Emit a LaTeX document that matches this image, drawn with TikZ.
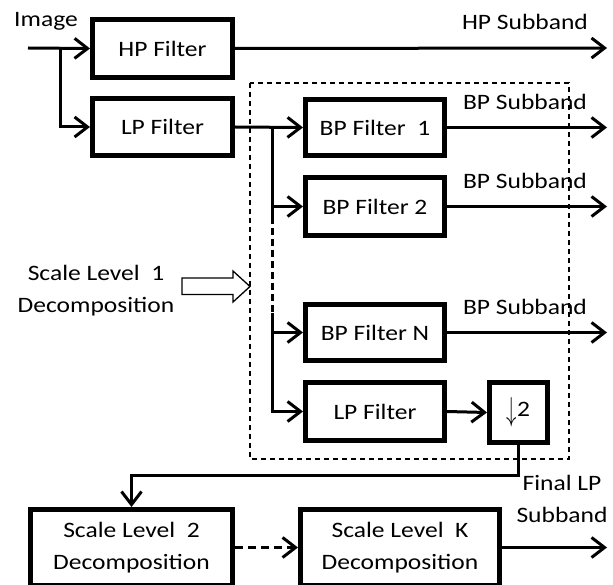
\documentclass[tikz,border=0pt]{standalone}
\usepackage{fontspec}
\setmainfont{Carlito}[FakeStretch=1.16]
\usetikzlibrary{arrows.meta}
\tikzset{
  box/.style={draw, line width=4.6pt, inner sep=0pt, align=center, font=\fontsize{22}{32}\selectfont},
  lbl/.style={inner sep=0pt, align=center, font=\fontsize{22}{32}\selectfont},
  conn/.style={line width=3pt},
  arr/.style={conn, -{Straight Barb[length=13pt,width=20pt,line width=3pt]}},
  dbox/.style={line width=1.3pt, dash pattern=on 5pt off 4pt},
}
\begin{document}
\begin{tikzpicture}[x=1pt,y=-1pt]
\clip (0,0) rectangle (613,585);
\fill[white] (0,0) rectangle (613,585);
% dashed enclosure
\draw[dbox] (250,83) rectangle (569,459);
% boxes
\node[box, minimum width=140.4pt, minimum height=58.4pt] (hp) at (162.5,48.5) {HP Filter};
\node[box, minimum width=140.4pt, minimum height=57.4pt] (lp) at (162.5,127) {LP Filter};
\node[box, minimum width=139.4pt, minimum height=56.4pt] (bp1) at (375,127.5) {BP Filter\ \ 1};
\node[box, minimum width=139.4pt, minimum height=58.4pt] (bp2) at (375,206.5) {BP Filter 2};
\node[box, minimum width=139.4pt, minimum height=56.4pt] (bpn) at (375,332.5) {BP Filter N};
\node[box, minimum width=139.4pt, minimum height=58.4pt] (lp2) at (375,411.5) {LP Filter};
\node[box, minimum width=58.4pt, minimum height=60.4pt] (ds) at (518.5,412.5) {\raisebox{-4pt}{\scalebox{1}[1.6]{$\downarrow$}}2};
\node[box, minimum width=202.4pt, minimum height=76.4pt] (sl2) at (131.5,547.5) {Scale Level\ \ 2\\Decomposition};
\node[box, minimum width=199.4pt, minimum height=76.4pt] (slk) at (400,547.5) {Scale Level\ \ K\\Decomposition};
% labels
\node[lbl] (img) at (46,21) {Image};
\node[lbl] (hps) at (525,22) {HP Subband};
\node[lbl] (bps1) at (525,102) {BP Subband};
\node[lbl] (bps2) at (525,181) {BP Subband};
\node[lbl] (bpsn) at (525,307) {BP Subband};
\node[lbl] (sl1) at (96,291) {Scale Level\ \ 1\\Decomposition};
\node[lbl] (flp) at (562,499) {Final LP\\Subband};
% coordinates
\coordinate (in) at (28,48);
\coordinate (br) at (60,48);
\coordinate (hpo) at (607,48);
\coordinate (o1) at (607,127.5);
\coordinate (o2) at (607,206.5);
\coordinate (on) at (607,332.5);
\coordinate (ok) at (607,547.5);
\coordinate (b1) at (272,127);
\coordinate (b2) at (272,206.5);
\coordinate (bd1) at (272,217);
\coordinate (bd2) at (272,313);
\coordinate (bn) at (272,332.5);
% connectors
\draw[arr] (in) -- (hp.west);
\draw[arr] (br) |- (lp.west);
\draw[arr] (hp.east) -- (hpo);
\draw[arr] (lp.east) -- (bp1.west);
\draw[conn] (b1) -- (bd1);
\draw[conn, dash pattern=on 7pt off 4pt] (bd1) -- (bd2);
\draw[arr] (bd2) |- (lp2.west);
\draw[arr] (b2) -- (bp2.west);
\draw[arr] (bn) -- (bpn.west);
\draw[arr] (bp1.east) -- (o1);
\draw[arr] (bp2.east) -- (o2);
\draw[arr] (bpn.east) -- (on);
\draw[arr] (lp2.east) -- (ds.west);
\draw[arr] (ds.south) -- ++(0,30) -| (sl2.north);
\draw[arr, dash pattern=on 8pt off 5pt] (sl2.east) -- (slk.west);
\draw[arr] (slk.east) -- (ok);
% hollow block arrow
\draw[line width=1.3pt, line join=miter] (182,278) -- (233,278) -- (233,271) -- (250,286.5) -- (233,302) -- (233,294.5) -- (182,294.5) -- cycle;
\end{tikzpicture}
\end{document}
